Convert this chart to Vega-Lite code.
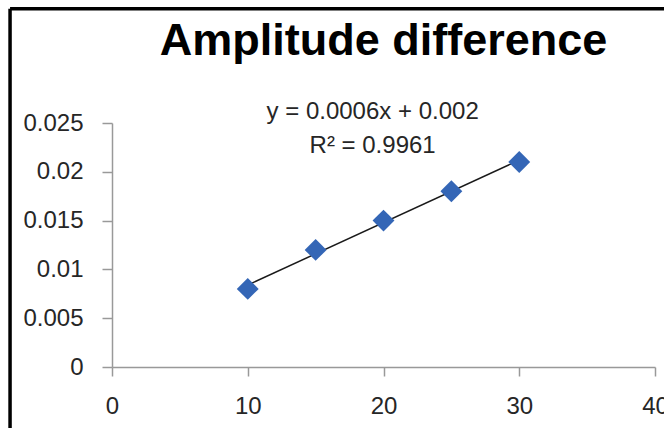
{
  "$schema": "https://vega.github.io/schema/vega-lite/v6.json",
  "width": 543,
  "height": 244,
  "autosize": "none",
  "padding": {"left": 112, "top": 123, "right": 9, "bottom": 61},
  "background": "white",
  "title": {
    "text": "Amplitude difference",
    "font": "Liberation Sans",
    "fontSize": 45,
    "fontWeight": "bold",
    "color": "#000000",
    "anchor": "middle",
    "frame": "group",
    "baseline": "alphabetic",
    "offset": -93
  },
  "config": {
    "view": {"stroke": null},
    "axis": {
      "grid": false,
      "domainColor": "#999999",
      "domainWidth": 1.5,
      "tickColor": "#999999",
      "tickWidth": 1.5,
      "labelFont": "Liberation Sans",
      "labelFontSize": 24,
      "labelColor": "#262626",
      "title": null
    }
  },
  "data": {
    "values": [
      {"x": 10, "y": 0.008},
      {"x": 15, "y": 0.012},
      {"x": 20, "y": 0.015},
      {"x": 25, "y": 0.018},
      {"x": 30, "y": 0.021}
    ]
  },
  "layer": [
    {
      "transform": [{"regression": "y", "on": "x"}],
      "mark": {"type": "line", "color": "#1a1a1a", "strokeWidth": 1.5},
      "encoding": {
        "x": {
          "field": "x",
          "type": "quantitative",
          "scale": {"domain": [0, 40], "nice": false},
          "axis": {"values": [0, 10, 20, 30, 40], "format": "d", "tickSize": 9, "labelPadding": 18, "labelFlush": false, "labelOverlap": false}
        },
        "y": {
          "field": "y",
          "type": "quantitative",
          "scale": {"domain": [0, 0.025], "nice": false},
          "axis": {"values": [0, 0.005, 0.01, 0.015, 0.02, 0.025], "format": "~g", "tickSize": 10, "labelPadding": 19, "labelFlush": false}
        }
      }
    },
    {
      "mark": {"type": "point", "shape": "diamond", "filled": true, "size": 480, "color": "#3466b6", "opacity": 1},
      "encoding": {
        "x": {"field": "x", "type": "quantitative"},
        "y": {"field": "y", "type": "quantitative"}
      }
    },
    {
      "data": {"values": [{"label": "y = 0.0006x + 0.002\nR² = 0.9961"}]},
      "mark": {
        "type": "text",
        "font": "Liberation Sans",
        "fontSize": 24,
        "fontWeight": "normal",
        "color": "#262626",
        "align": "center",
        "baseline": "alphabetic",
        "lineBreak": "\n",
        "lineHeight": 34,
        "clip": false
      },
      "encoding": {
        "text": {"field": "label"},
        "x": {"datum": 19.2},
        "y": {"datum": 0.0254}
      }
    },
    {
      "data": {"values": [{"edge": "left"}]},
      "mark": {"type": "rule", "color": "#000000", "strokeWidth": 3.5, "clip": false},
      "encoding": {
        "x": {"datum": -7.51},
        "y": {"datum": -0.007},
        "y2": {"datum": 0.0367}
      }
    },
    {
      "data": {"values": [{"edge": "top"}]},
      "mark": {"type": "rule", "color": "#000000", "strokeWidth": 3.5, "clip": false},
      "encoding": {
        "y": {"datum": 0.0367},
        "x": {"datum": -7.51},
        "x2": {"datum": 41}
      }
    }
  ]
}
